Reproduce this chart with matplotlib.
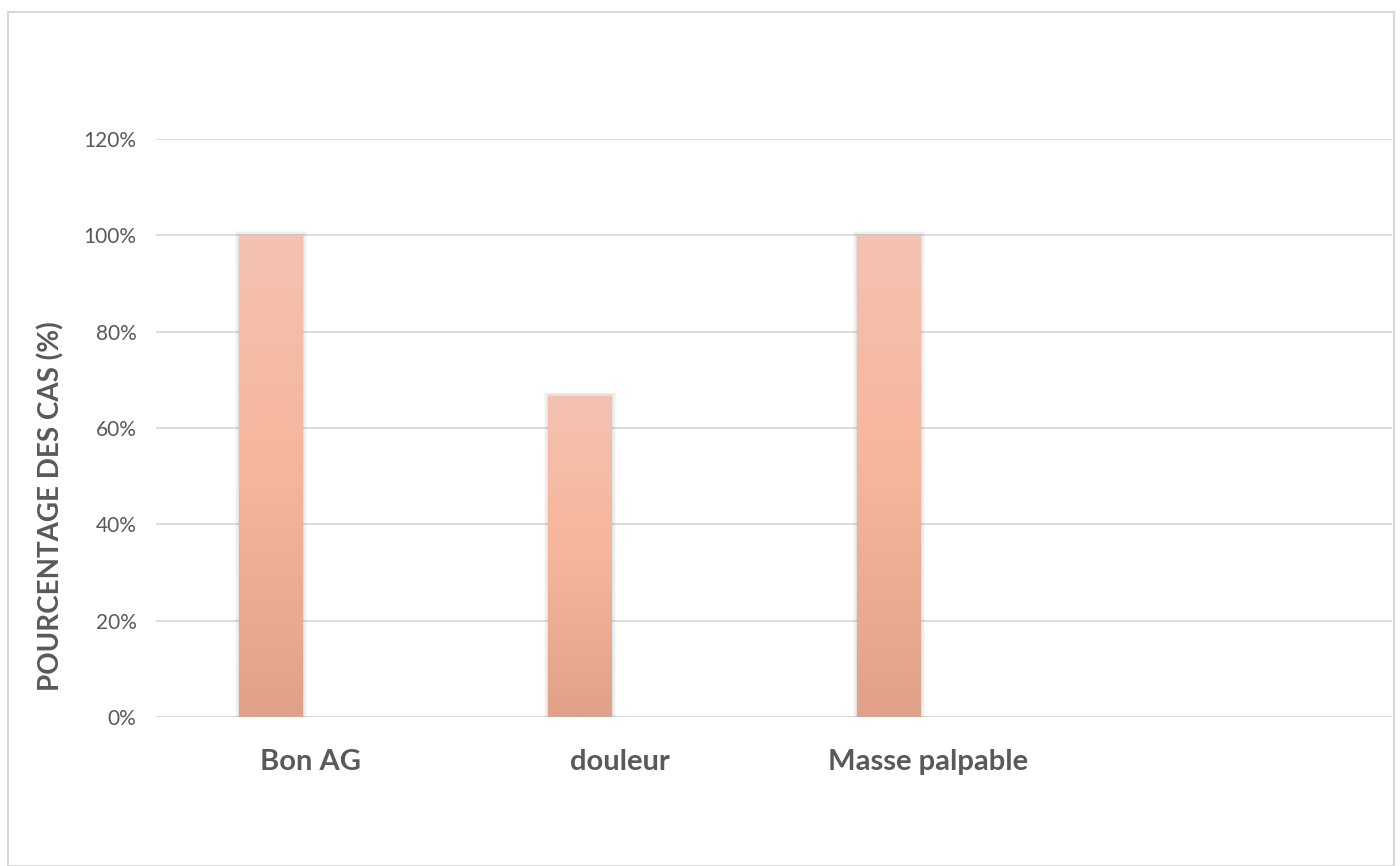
import numpy as np
import matplotlib
matplotlib.use("Agg")
import matplotlib.pyplot as plt
from matplotlib.patches import Rectangle
from matplotlib.colors import LinearSegmentedColormap
from matplotlib.ticker import FuncFormatter

categories = ["Bon AG", "douleur", "Masse palpable", ""]
values = [1.00, 0.6667, 1.00, 0.0]
yticks = [0, 0.2, 0.4, 0.6, 0.8, 1.0, 1.2]
ylabel = "POURCENTAGE DES CAS (%)"

plt.rcParams['font.family'] = ['Lato', 'DejaVu Sans']
txt = '#595959'
W, H = 1400, 866
fig = plt.figure(figsize=(W/100, H/100), dpi=100)
fig.patch.set_facecolor('white')
fig.add_artist(Rectangle((8/W, 0), (1394-8)/W, 1-12/H, transform=fig.transFigure,
                         fill=False, edgecolor='#D9D9D9', linewidth=1.5))

ax = fig.add_axes([156/W, 1-717/H, (1392-156)/W, (717-139)/H])
ax.set_xlim(-0.5, len(categories)-0.5)
ax.set_ylim(0, 1.2)
for s in ax.spines.values():
    s.set_visible(False)
ax.set_yticks(yticks)
ax.yaxis.set_major_formatter(FuncFormatter(lambda v, p: f"{v*100:.0f}%"))
ax.grid(axis='y', color='#D9D9D9', linewidth=1.3)
ax.set_axisbelow(True)
ax.tick_params(axis='y', length=0, pad=14, labelsize=15, labelcolor=txt)
ax.set_xticks(np.arange(len(categories)))
ax.set_xticklabels(categories, fontsize=21, fontweight='bold', color=txt)
ax.tick_params(axis='x', length=0, pad=23)
ax.axhline(0, color='#D9D9D9', linewidth=2, zorder=1)
fig.text(51/W, 1-506/H, ylabel, rotation=90, ha='center', va='center',
         fontsize=20, fontweight='bold', color=txt)

cmap = LinearSegmentedColormap.from_list('g', ['#E1A188', '#F7B59B', '#F4C2B1'])
grad = np.linspace(0, 1, 256).reshape(-1, 1)
bar_w = 64/309.0
offset = -39.5/309.0
for i, v in enumerate(values):
    if v <= 0:
        continue
    x0 = i + offset - bar_w/2
    for k, a in enumerate([0.12, 0.08, 0.05]):
        d = (k+1)*1.3/309.0
        sh = Rectangle((x0-d, 0), bar_w+2*d, v+0.003*(k+1), facecolor='#808080',
                       alpha=a, edgecolor='none', zorder=2)
        ax.add_patch(sh)
    r = Rectangle((x0, 0), bar_w, v, facecolor='none', edgecolor='none', zorder=3)
    ax.add_patch(r)
    im = ax.imshow(grad, cmap=cmap, aspect='auto', extent=[x0, x0+bar_w, 0, v],
                   origin='lower', zorder=3)
    im.set_clip_path(r)
ax.set_xlim(-0.5, len(categories)-0.5)
ax.set_ylim(0, 1.2)

fig.savefig('out.png', dpi=100)
